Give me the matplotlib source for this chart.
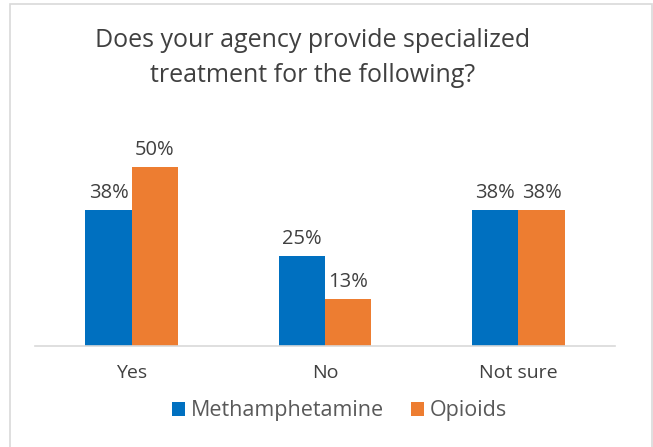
import matplotlib.pyplot as plt
import numpy as np
from matplotlib.patches import Rectangle

categories = ['Yes', 'No', 'Not sure']
meth = [38, 25, 38]
opioids = [50, 13, 38]
series_names = ['Methamphetamine', 'Opioids']

plt.rcParams['font.family'] = ['Open Sans', 'DejaVu Sans']

fig = plt.figure(figsize=(6.53, 4.47), dpi=100)
ax = fig.add_axes([35 / 653, 101 / 447, 580 / 653, 215 / 447])

# chart frame
fig.patches.append(Rectangle((10 / 653, -0.01), 642 / 653, 1 - 4 / 447 + 0.01,
                             transform=fig.transFigure, fill=False,
                             edgecolor='#d9d9d9', linewidth=1.2))

x = np.arange(len(categories))
w = 0.24
blue = '#0070C0'
orange = '#ED7D31'
b1 = ax.bar(x - w / 2, meth, w, color=blue, label=series_names[0])
b2 = ax.bar(x + w / 2, opioids, w, color=orange, label=series_names[1])

for bars, vals in [(b1, meth), (b2, opioids)]:
    for rect, v in zip(bars, vals):
        ax.text(rect.get_x() + rect.get_width() / 2, v + 2.0, f'{v}%',
                ha='center', va='bottom', fontsize=14.5, color='#404040')

ax.set_xlim(-0.5, 2.5)
ax.set_ylim(0, 60)
ax.set_yticks([])
ax.set_xticks(x)
ax.set_xticklabels(categories, fontsize=14, color='#404040')
ax.tick_params(axis='x', length=0, pad=13)
for s in ['top', 'right', 'left']:
    ax.spines[s].set_visible(False)
ax.spines['bottom'].set_color('#d9d9d9')
ax.spines['bottom'].set_linewidth(1.2)

fig.text(0.478, 0.91, 'Does your agency provide specialized', ha='center',
         va='center', fontsize=18, color='#404040')
fig.text(0.478, 0.832, 'treatment for the following?', ha='center',
         va='center', fontsize=18, color='#404040')

fig.legend(handles=[b1, b2], loc='center', bbox_to_anchor=(0.52, 0.081),
           ncol=2, frameon=False, fontsize=15.5, handlelength=0.6,
           handleheight=0.6, handletextpad=0.25, columnspacing=1.3,
           labelcolor='#595959')

fig.savefig('out.png', dpi=100)
